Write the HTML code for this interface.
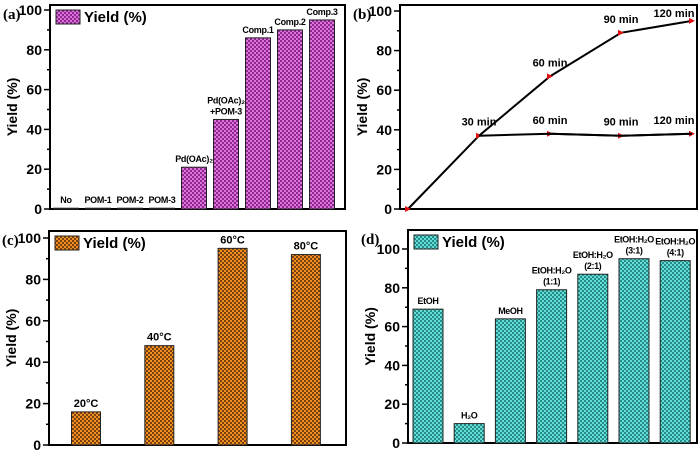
<!DOCTYPE html>
<html><head><meta charset="utf-8"><style>
body{margin:0;background:#fff}
svg text{font-family:"Liberation Sans",sans-serif;font-weight:bold}
.pl{font-family:"Liberation Serif",serif!important;font-size:15px}
</style></head><body>
<svg id="s" width="700" height="451" xmlns="http://www.w3.org/2000/svg">
<defs>
<pattern id="pm" width="4" height="4" patternUnits="userSpaceOnUse"><rect width="4" height="4" fill="#e070e0"/><rect width="2" height="2" fill="#8a2a8a"/><rect x="2" y="2" width="2" height="2" fill="#8a2a8a"/></pattern>
<pattern id="po" width="4" height="4" patternUnits="userSpaceOnUse"><rect width="4" height="4" fill="#f09020"/><rect width="2" height="2" fill="#7a4010"/><rect x="2" y="2" width="2" height="2" fill="#7a4010"/></pattern>
<pattern id="pc" width="4" height="4" patternUnits="userSpaceOnUse"><rect width="4" height="4" fill="#60e0d8"/><rect width="2" height="2" fill="#2a8a86"/><rect x="2" y="2" width="2" height="2" fill="#2a8a86"/></pattern>
</defs>
</svg>
<script>
const aCats=["No","POM-1","POM-2","POM-3","Pd(OAc)₂","Pd(OAc)₂\n+POM-3","Comp.1","Comp.2","Comp.3"];
const aVals=[0.4,0.4,0.4,0.4,21,45,86,90,95];
const bTimes=[0,30,60,90,120];
const bUpper=[0,37,67,89,95];
const bLowerTimes=[30,60,90,120];
const bLower=[37,38,37,38];
const cCats=["20°C","40°C","60°C","80°C"];
const cVals=[16,48,95,92];
const dCats=["EtOH","H₂O","MeOH","EtOH:H₂O\n(1:1)","EtOH:H₂O\n(2:1)","EtOH:H₂O\n(3:1)","EtOH:H₂O\n(4:1)"];
const dVals=[69,10,64,79,87,95,94];
const yTicks=[0,20,40,60,80,100];

const S=document.getElementById('s');const NS="http://www.w3.org/2000/svg";
function el(t,a,p){const e=document.createElementNS(NS,t);for(const k in a)e.setAttribute(k,a[k]);(p||S).appendChild(e);return e;}
function txt(x,y,s,sz,anchor,p,ls){const lines=s.split("\n");const t=el('text',{x:x,y:y,'font-size':sz,'text-anchor':anchor||'middle'},p);
 if(ls!==undefined)t.setAttribute('letter-spacing',ls);
 lines.forEach((l,i)=>{const ts=el('tspan',{x:x,dy:i?sz+2:0},t);ts.textContent=l;});return t;}
function panel(P){
 const g=el('g',{});
 
 
 const y=v=>P.y0-(v/P.ymax)*(P.y0-P.yTop);
 const f=el('rect',{x:P.l,y:P.top,width:P.r-P.l,height:P.y0-P.top,fill:'none',stroke:'#000','stroke-width':2},g);
 
 
 for(let v=0;v<=100;v+=10){const yy=y(v);el('line',{x1:P.l-(v%20?3:6),x2:P.l,y1:yy,y2:yy,stroke:'#000','stroke-width':1.5},g);}
 yTicks.forEach(v=>{const t=txt(P.l-8,y(v)+5,String(v),14,'end',g);
  
  });
 const yt=el('text',{x:0,y:0,'font-size':14,'text-anchor':'middle',transform:`translate(${P.l-33},${(P.top+P.y0)/2}) rotate(-90)`},g);yt.textContent="Yield (%)";
 
 
 const pl=txt(P.l-47,P.top+14,P.letter,15,'start',g);pl.setAttribute('class','pl');
 
 
 return {g,y};
}
function bars(P,cats,vals){
 const {g,y}=panel(P);
 cats.forEach((c,i)=>{const cx=P.x0+i*P.dx;const yy=y(vals[i]);
  const b=el('rect',{x:cx-P.bw/2,y:yy,width:P.bw,height:P.y0-yy,fill:`url(#${P.pat})`,stroke:'#222','stroke-width':1},g);
  
  
  const n=c.split("\n").length;
  const t=txt(cx,yy-5-(n-1)*(P.ls+2),c,P.ls,'middle',g,P.lsp);
  
  });
 const lg=el('rect',{x:P.l+6,y:P.top+5,width:24,height:14,fill:`url(#${P.pat})`,stroke:'#222'},g);
 
 
 const lt=txt(P.l+34,P.top+17,"Yield (%)",15,'start',g);
 
 
}
bars({name:'panel-a',letter:'(a)',l:50,r:345,top:5,yTop:10,y0:209,ymax:100,x0:66,dx:32,bw:25,pat:'pm',ls:9,lsp:-0.3},aCats,aVals);
bars({name:'panel-c',letter:'(c)',l:49,r:346,top:231,yTop:238,y0:445,ymax:100,x0:86,dx:73.3,bw:29,pat:'po',ls:11},cCats,cVals);
bars({name:'panel-d',letter:'(d)',l:408,r:697,top:230,yTop:249,y0:443,ymax:100,x0:428,dx:41.2,bw:30,pat:'pc',ls:9,lsp:-0.4},dCats,dVals);
// panel b
(function(){
 const P={name:'panel-b',letter:'(b)',l:400,r:697,top:5,yTop:11,y0:209,ymax:100};
 const {g,y}=panel(P);
 const x=t=>408+t*(692-408)/120;
 function line(ts,vs,nm){const pts=ts.map((t,i)=>x(t)+','+y(vs[i])).join(' ');
  const l=el('polyline',{points:pts,fill:'none',stroke:'#000','stroke-width':2},g);
  
  
  ts.forEach((t,i)=>{const m=el('path',{d:`M${x(t)-3},${y(vs[i])-3}L${x(t)+3},${y(vs[i])}L${x(t)-3},${y(vs[i])+3}Z`,fill:'#e01010'},g);
   
   
   if(t>0){const lb=txt(Math.min(x(t),674),Math.max(y(vs[i])-10,17),t+" min",11,'middle',g);
    
    }});}
 line(bTimes,bUpper,'upper-series');
 line(bLowerTimes.slice(1),bLower.slice(1),'lower-series-labels');
 const ll=el('polyline',{points:bLowerTimes.map((t,i)=>x(t)+','+y(bLower[i])).join(' '),fill:'none',stroke:'#000','stroke-width':2},g);
 
 
})();
</script>
</body></html>
